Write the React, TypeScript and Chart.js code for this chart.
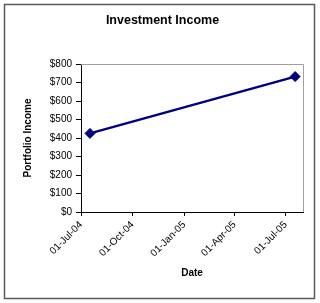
import React, { useEffect, useRef } from "react";
import { Chart, registerables } from "chart.js";

Chart.register(...registerables);

const pointDates = ["2004-07-17", "2005-07-18"];
const incomeValues = [425, 732];
const tickDates = ["2004-07-01", "2004-10-01", "2005-01-01", "2005-04-01", "2005-07-01"];
const tickLabels = ["01-Jul-04", "01-Oct-04", "01-Jan-05", "01-Apr-05", "01-Jul-05"];
const axisStart = "2004-07-01";
const axisEnd = "2005-08-01";

const toDay = (s: string) => {
  const [y, m, d] = s.split("-").map(Number);
  return Date.UTC(y, m - 1, d) / 86400000;
};

const FONT = "'Liberation Sans', Arial, sans-serif";

const framePlugin = {
  id: "frame",
  beforeDraw(chart: any) {
    const { ctx, width, height } = chart;
    ctx.save();
    ctx.fillStyle = "#ffffff";
    ctx.fillRect(0, 0, width, height);
    ctx.strokeStyle = "#5a5a5a";
    ctx.lineWidth = 1.5;
    ctx.strokeRect(4.5, 4.5, 310, 294);
    ctx.restore();
  },
  beforeDatasetsDraw(chart: any) {
    const { ctx, chartArea } = chart;
    ctx.save();
    ctx.strokeStyle = "#a0a0a0";
    ctx.lineWidth = 1;
    ctx.beginPath();
    ctx.moveTo(chartArea.left, chartArea.top + 0.5);
    ctx.lineTo(chartArea.right + 0.5, chartArea.top + 0.5);
    ctx.lineTo(chartArea.right + 0.5, chartArea.bottom);
    ctx.stroke();
    ctx.restore();
  },
};

export default function App() {
  const ref = useRef<HTMLCanvasElement>(null);
  useEffect(() => {
    document.body.style.margin = "0";
    const chart = new Chart(ref.current!, {
      type: "line",
      data: {
        datasets: [
          {
            data: pointDates.map((d, i) => ({ x: toDay(d), y: incomeValues[i] })),
            borderColor: "#000080",
            backgroundColor: "#000080",
            borderWidth: 2.5,
            pointStyle: "rectRot",
            pointRadius: 5,
            pointBorderWidth: 1,
            pointBackgroundColor: "#000080",
            tension: 0,
          },
        ],
      },
      options: {
        animation: false,
        responsive: false,
        maintainAspectRatio: false,
        layout: { padding: { top: 0, left: 22, right: 17, bottom: 24 } },
        plugins: {
          legend: { display: false },
          tooltip: { enabled: false },
          title: {
            display: true,
            text: "Investment Income",
            color: "#000",
            font: { family: FONT, size: 12.5, weight: "bold" },
            padding: { top: 13, bottom: 36 },
          },
        },
        scales: {
          x: {
            type: "linear",
            min: toDay(axisStart),
            max: toDay(axisEnd),
            afterBuildTicks: (scale: any) => {
              scale.ticks = tickDates.map((d) => ({ value: toDay(d) }));
            },
            afterFit: (scale: any) => {
              scale.height = 67;
            },
            ticks: {
              autoSkip: false,
              minRotation: 45,
              maxRotation: 45,
              padding: 3,
              color: "#000",
              font: { family: FONT, size: 10 },
              callback: (_v: any, i: number) => tickLabels[i],
            },
            grid: {
              drawOnChartArea: false,
              drawTicks: true,
              tickLength: 4,
              color: "#000",
            },
            border: { display: true, color: "#000", width: 1 },
            title: {
              display: true,
              text: "Date",
              color: "#000",
              font: { family: FONT, size: 10, weight: "bold" },
              padding: { top: 0, bottom: 0 },
            },
          },
          y: {
            min: 0,
            max: 800,
            afterFit: (scale: any) => {
              scale.width = 59;
            },
            ticks: {
              stepSize: 100,
              padding: 4,
              color: "#000",
              font: { family: FONT, size: 10 },
              callback: (v: any) => "$" + v,
            },
            grid: {
              drawOnChartArea: false,
              drawTicks: true,
              tickLength: 5,
              color: "#000",
            },
            border: { display: true, color: "#000", width: 1 },
            title: {
              display: true,
              text: "Portfolio Income",
              color: "#000",
              font: { family: FONT, size: 10, weight: "bold" },
              padding: { top: 0, bottom: 0 },
            },
          },
        },
      },
      plugins: [framePlugin],
    });
    return () => chart.destroy();
  }, []);
  return (
    <div style={{ width: 320, height: 303 }}>
      <canvas ref={ref} width={320} height={303} style={{ display: "block" }} />
    </div>
  );
}
